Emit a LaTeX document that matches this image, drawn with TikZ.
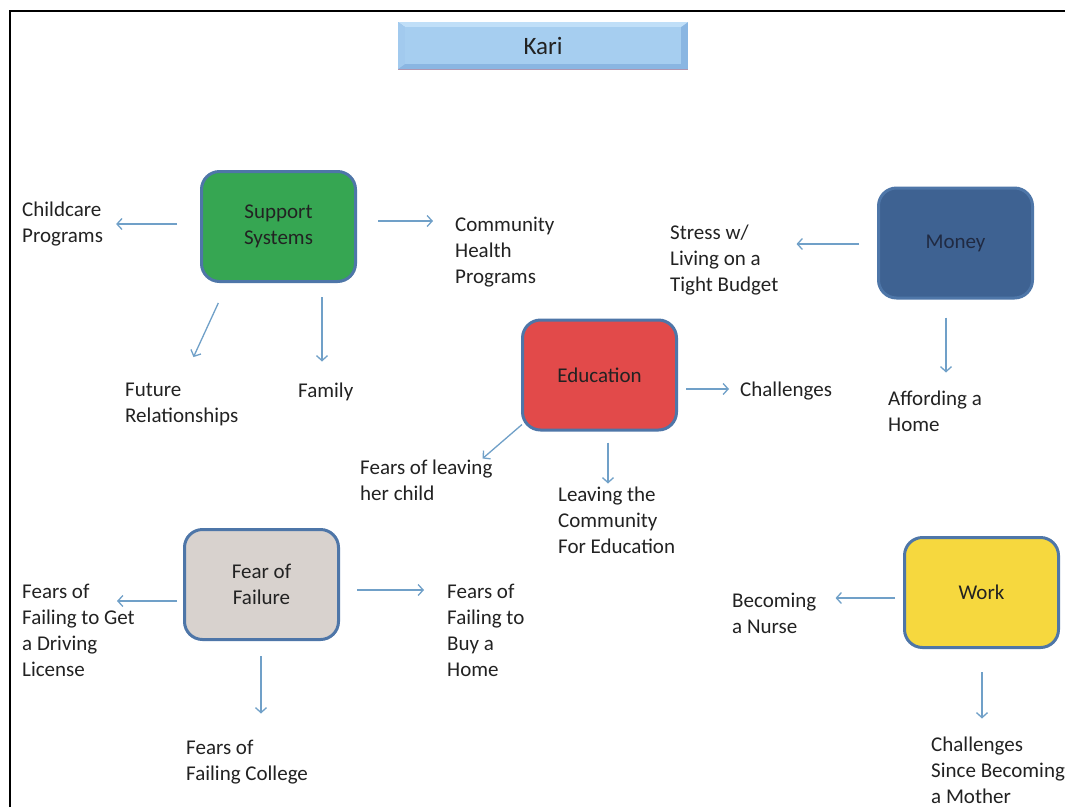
\documentclass[tikz,border=0pt]{standalone}
\usepackage{fontspec}
\setmainfont{Carlito}
\usetikzlibrary{arrows.meta,calc}

\definecolor{ink}{RGB}{34,34,34}
\definecolor{edgeblue}{RGB}{78,118,168}
\definecolor{arrowblue}{RGB}{112,160,200}
\definecolor{suppgreen}{RGB}{54,166,82}
\definecolor{moneyblue}{RGB}{62,98,146}
\definecolor{moneyink}{RGB}{32,42,66}
\definecolor{edured}{RGB}{226,74,74}
\definecolor{feargray}{RGB}{216,210,206}
\definecolor{workyellow}{RGB}{246,216,62}
\definecolor{karifill}{RGB}{166,206,240}
\definecolor{karidark}{RGB}{138,182,226}
\definecolor{karilight}{RGB}{192,223,248}
\definecolor{karishadow}{RGB}{176,150,176}

\begin{document}
\begin{tikzpicture}[x=1pt,y=-1pt,
  every node/.style={font=\fontsize{21}{26}\selectfont, text=ink},
  topic/.style={draw=edgeblue, line width=3pt, rounded corners=18pt,
    minimum width=154pt, minimum height=110pt, align=center, inner sep=0pt},
  leaf/.style={anchor=north west, align=left, inner sep=0pt},
  arr/.style={draw=arrowblue, line width=1.3pt,
    -{Straight Barb[length=5pt,width=11pt]}},
]
\useasboundingbox (0,0) rectangle (1065,807);
\fill[white] (0,0) rectangle (1065,807);
\clip (0,0) rectangle (1065,807);

% frame lines along the top and left
\draw[black, line width=2pt] (10,807) -- (10,11) -- (1065,11);

% title plate with bevelled edges
\coordinate (k1) at (398,22);
\coordinate (k2) at (688,69);
\fill[karidark] (k1) rectangle (k2);
\fill[karilight] (k1) -- (k1 -| k2) -- ($(k1 -| k2)+(-7,5)$) -- ($(k1)+(7,5)$) -- cycle;
\fill[karifill!85!karidark] (k1) -- ($(k1)+(7,5)$) -- ($(k1 |- k2)+(7,-5)$) -- (k1 |- k2) -- cycle;
\fill[karifill] ($(k1)+(7,5)$) rectangle ($(k2)+(-7,-5)$);
\draw[karishadow, line width=1pt] ($(k1 |- k2)+(0,0.5)$) -- ($(k2)+(0,0.5)$);
\node[font=\fontsize{25}{30}\selectfont] (kari) at ($(k1)!0.5!(k2)$) {Kari};

% topic boxes
\node[topic, fill=suppgreen] (sup) at (278.5,226.5) {Support\\Systems};
\node[topic, fill=moneyblue, text=moneyink] (money) at (955.5,243) {Money};
\node[topic, fill=edured] (edu) at (599.5,375) {Education};
\node[topic, fill=feargray] (fear) at (261.5,584.5) {Fear of\\Failure};
\node[topic, fill=workyellow] (work) at (981.5,592.5) {Work};

% surrounding notes
\node[leaf] (child) at (22,201.5) {Childcare\\Programs};
\node[leaf] (comm) at (455,216.5) {Community\\Health\\Programs};
\node[leaf] (future) at (125,382.5) {Future\\Relationships};
\node[leaf] (family) at (298,382.5) {Family};
\node[leaf] (stress) at (670,224.5) {Stress w/\\Living on a\\Tight Budget};
\node[leaf] (afford) at (888,390.5) {Affording a\\Home};
\node[leaf] (chall) at (740,381.5) {Challenges};
\node[leaf] (fleave) at (360,459.5) {Fears of leaving\\her child};
\node[leaf] (leaving) at (558,486.5) {Leaving the\\Community\\For Education};
\node[leaf] (fget) at (22,583.5) {Fears of\\Failing to Get\\a Driving\\License};
\node[leaf] (fbuy) at (447,583.5) {Fears of\\Failing to\\Buy a\\Home};
\node[leaf] (fcoll) at (186,739.5) {Fears of\\Failing College};
\node[leaf] (nurse) at (732,592.5) {Becoming\\a Nurse};
\node[leaf] (since) at (931,736.5) {Challenges\\Since Becoming\\a Mother};

% connector start points on the box borders
\coordinate (c1) at ($(sup.west)+(0,-2.5)$);
\coordinate (c2) at ($(sup.east)+(0,-5.5)$);
\coordinate (c4) at ($(sup.south)+(43.5,0)$);
\coordinate (c5) at ($(money.west)+(0,1)$);
\coordinate (c6) at ($(money.south)+(-9.5,0)$);
\coordinate (c7) at ($(edu.east)+(0,14)$);
\coordinate (c9) at ($(edu.south)+(8.5,0)$);
\coordinate (c10) at ($(fear.west)+(0,16.5)$);
\coordinate (c11) at ($(fear.east)+(0,5.5)$);
\coordinate (c12) at ($(fear.south)+(-0.5,0)$);
\coordinate (c13) at ($(work.west)+(0,5.5)$);
\coordinate (c14) at ($(work.south)+(0.5,0)$);

% connectors
\draw[arr, shorten <=23pt, shorten >=13pt] (c1) -- (c1 -| child.east);
\draw[arr, shorten <=21pt, shorten >=22pt] (c2) -- (c2 -| comm.west);
\draw[arr, shorten <=22pt, shorten >=28pt] ($(sup.south)+(-51,0)$) -- (future.north);
\draw[arr, shorten <=14pt, shorten >=21pt] (c4) -- (c4 |- family.north);
\draw[arr, shorten <=18pt, shorten >=18pt] (c5) -- (c5 -| stress.east);
\draw[arr, shorten <=18pt, shorten >=18pt] (c6) -- (c6 |- afford.north);
\draw[arr, shorten <=8pt, shorten >=11pt] (c7) -- (c7 -| chall.west);
\draw[arr] ($(edu.south west)+(1,-7)$) -- ($(fleave.north east)+(-10,-1)$);
\draw[arr, shorten <=11pt, shorten >=3pt] (c9) -- (c9 |- leaving.north);
\draw[arr, shorten <=6pt] (c10) -- ($(c10 -| fget.west)+(95,0)$);
\draw[arr, shorten <=17pt, shorten >=23pt] (c11) -- (c11 -| fbuy.west);
\draw[arr, shorten <=15pt, shorten >=26pt] (c12) -- (c12 |- fcoll.north);
\draw[arr, shorten <=8pt, shorten >=19pt] (c13) -- (c13 -| nurse.east);
\draw[arr, shorten <=23pt, shorten >=18pt] (c14) -- (c14 |- since.north);
\end{tikzpicture}
\end{document}
